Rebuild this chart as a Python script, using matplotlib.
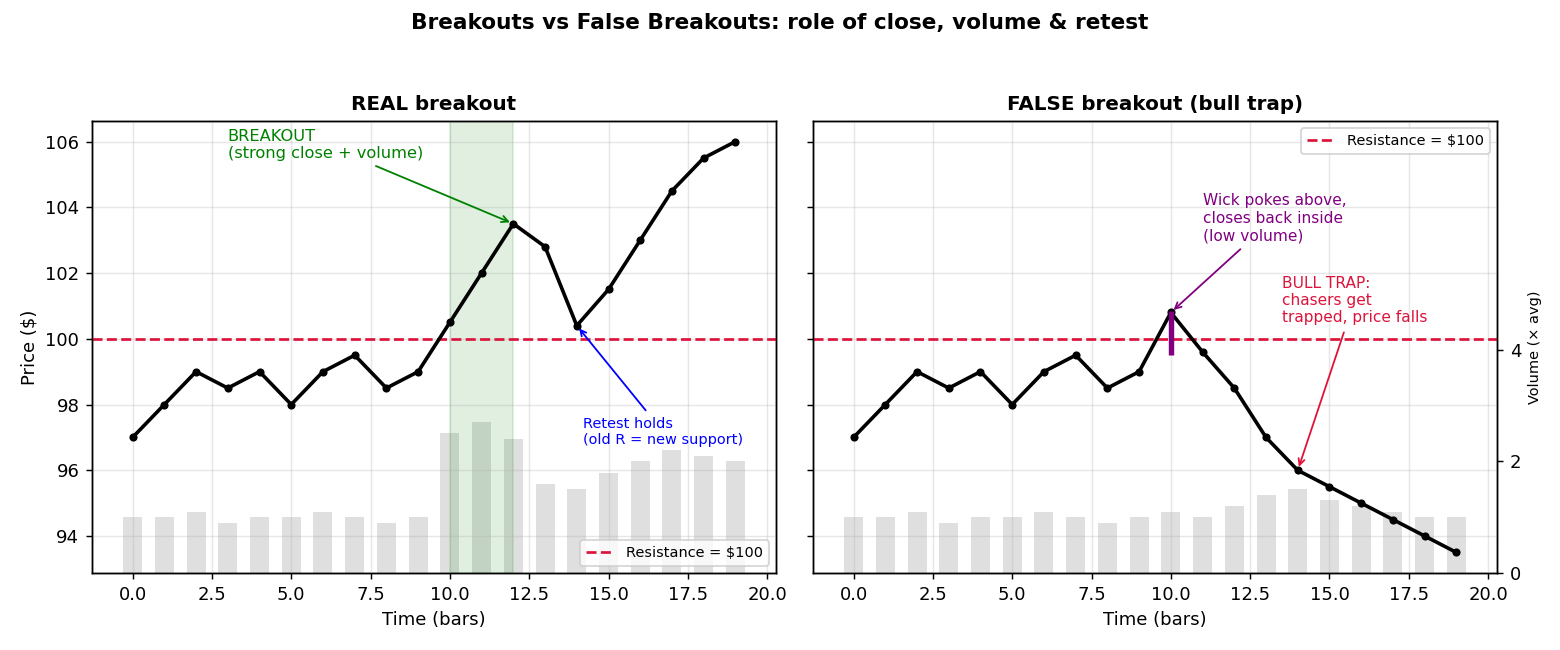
import matplotlib
matplotlib.use("Agg")
import matplotlib.pyplot as plt
import numpy as np

t = np.arange(20)
real_price = [97, 98, 99, 98.5, 99, 98, 99, 99.5, 98.5, 99, 100.5, 102, 103.5, 102.8, 100.4, 101.5, 103, 104.5, 105.5, 106]
real_vol = [1.0, 1.0, 1.1, 0.9, 1.0, 1.0, 1.1, 1.0, 0.9, 1.0, 2.5, 2.7, 2.4, 1.6, 1.5, 1.8, 2.0, 2.2, 2.1, 2.0]
false_price = [97, 98, 99, 98.5, 99, 98, 99, 99.5, 98.5, 99, 100.8, 99.6, 98.5, 97.0, 96.0, 95.5, 95.0, 94.5, 94.0, 93.5]
false_vol = [1.0, 1.0, 1.1, 0.9, 1.0, 1.0, 1.1, 1.0, 0.9, 1.0, 1.1, 1.0, 1.2, 1.4, 1.5, 1.3, 1.2, 1.1, 1.0, 1.0]
resistance = 100
wick_low, wick_high = 99.5, 100.85

fig, (ax1, ax2) = plt.subplots(1, 2, figsize=(12, 5), dpi=130, sharey=True)
fig.subplots_adjust(left=92/1560, right=1497/1560, top=1-121/650, bottom=1-573/650, wspace=0.054)
fig.suptitle("Breakouts vs False Breakouts: role of close, volume & retest",
             fontsize=12, fontweight="bold", y=0.98)

vmax = max(max(real_vol), max(false_vol)) * 3

def setup(ax, price, vol, title, show_vol_ticks):
    axv = ax.twinx()
    ax.set_zorder(axv.get_zorder() + 1)
    ax.patch.set_visible(False)
    axv.bar(t, vol, width=0.6, color="gray", alpha=0.25)
    axv.set_ylim(0, vmax)
    if show_vol_ticks:
        axv.set_yticks([0, 2, 4])
        axv.set_ylabel("Volume (× avg)", fontsize=8)
    else:
        axv.set_yticks([])
    ax.plot(t, price, color="black", lw=2, marker="o", ms=3.5, zorder=3)
    ax.axhline(resistance, color="crimson", ls="--", lw=1.5, label=f"Resistance = ${resistance}")
    ax.grid(True, alpha=0.3)
    ax.set_title(title, fontsize=11, fontweight="bold")
    ax.set_xlabel("Time (bars)")
    return axv

setup(ax1, real_price, real_vol, "REAL breakout", False)
setup(ax2, false_price, false_vol, "FALSE breakout (bull trap)", True)

ax1.axvspan(10, 12, color="green", alpha=0.12)
ax1.set_ylabel("Price ($)")
ax1.annotate("BREAKOUT\n(strong close + volume)", xy=(12, 103.5), xytext=(3, 105.5),
             color="green", fontsize=9,
             arrowprops=dict(arrowstyle="->", color="green"))
ax1.annotate("Retest holds\n(old R = new support)", xy=(14, 100.4), xytext=(14.2, 96.8),
             color="blue", fontsize=8,
             arrowprops=dict(arrowstyle="->", color="blue"))
ax1.legend(loc="lower right", fontsize=8)

ax2.vlines(10, wick_low, wick_high, color="purple", lw=3, zorder=4)
ax2.annotate("Wick pokes above,\ncloses back inside\n(low volume)", xy=(10, 100.8), xytext=(11, 103.0),
             color="purple", fontsize=8.5,
             arrowprops=dict(arrowstyle="->", color="purple"))
ax2.annotate("BULL TRAP:\nchasers get\ntrapped, price falls", xy=(14, 96.0), xytext=(13.5, 100.5),
             color="crimson", fontsize=8.5,
             arrowprops=dict(arrowstyle="->", color="crimson"))
ax2.legend(loc="upper right", fontsize=8)

fig.savefig("out.png", dpi=130)
